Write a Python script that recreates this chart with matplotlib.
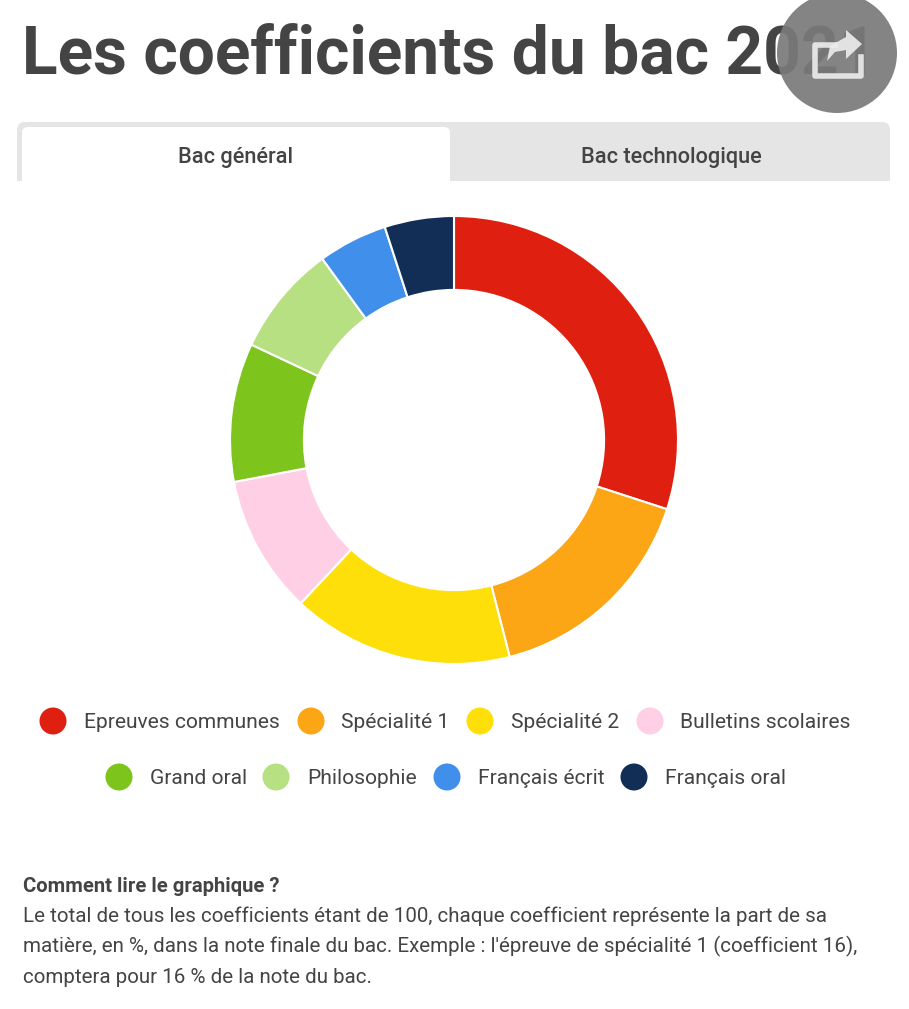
import matplotlib
matplotlib.use("Agg")
import matplotlib.pyplot as plt
from matplotlib.patches import Circle, FancyBboxPatch, Rectangle, Polygon

W, H = 909, 1009

categories = ["Epreuves communes", "Spécialité 1", "Spécialité 2", "Bulletins scolaires",
              "Grand oral", "Philosophie", "Français écrit", "Français oral"]
coefficients = [30, 16, 16, 10, 10, 8, 5, 5]
colors = ["#DF2010", "#FDA615", "#FFDF0A", "#FFCFE6", "#7DC41C", "#B6E081", "#408FEB", "#122E57"]

title = "Les coefficients du bac 2021"
tab_labels = ["Bac général", "Bac technologique"]
note_head = "Comment lire le graphique ?"
note_lines = ["Le total de tous les coefficients étant de 100, chaque coefficient représente la part de sa",
              "matière, en %, dans la note finale du bac. Exemple : l'épreuve de spécialité 1 (coefficient 16),",
              "comptera pour 16 % de la note du bac."]

plt.rcParams['font.family'] = ['Roboto', 'DejaVu Sans']
text_color = "#444444"

fig = plt.figure(figsize=(W / 100, H / 100), dpi=100)

# page layer in pixel coordinates
bg = fig.add_axes([0, 0, 1, 1])
bg.set_xlim(0, W)
bg.set_ylim(H, 0)
bg.axis("off")

bg.text(22, 74, title, fontsize=47.4, fontweight="bold", color=text_color, va="baseline", ha="left")

# tabs
bg.add_patch(FancyBboxPatch((17, 122), 873, 80, boxstyle="round,pad=0,rounding_size=8",
                            fc="#E5E5E5", ec="none"))
bg.add_patch(FancyBboxPatch((22, 127), 428, 80, boxstyle="round,pad=0,rounding_size=6",
                            fc="white", ec="none"))
bg.add_patch(Rectangle((0, 181), W, 30, fc="white", ec="none"))
bg.text(236, 162.5, tab_labels[0], fontsize=15.7, fontweight="medium", color=text_color, ha="center", va="baseline")
bg.text(671, 162.5, tab_labels[1], fontsize=15.7, fontweight="medium", color=text_color, ha="center", va="baseline")

# legend, two centred rows
legend_rows = [(721, [53, 311, 480, 650], [84, 341, 511, 680], categories[:4]),
               (777, [119, 276, 447, 634], [150, 307, 478, 665], categories[4:])]
k = 0
for y, xc, xt, labels in legend_rows:
    for cx, tx, lab in zip(xc, xt, labels):
        bg.add_patch(Circle((cx, y), 13.5, fc=colors[k], ec="none"))
        bg.text(tx, y + 6.5, lab, fontsize=15.1, color=text_color, ha="left", va="baseline")
        k += 1

# reading note
bg.text(23, 891.5, note_head, fontsize=14.55, fontweight="bold", color=text_color, va="baseline")
for i, line in enumerate(note_lines):
    bg.text(23, 922 + i * 30.5, line, fontsize=14.8, color=text_color, va="baseline")

# share button over the title
bg.add_patch(Circle((837, 53), 60, fc="#7A7A7A", ec="none", alpha=0.92, zorder=5))
bg.plot([835, 815, 815, 861, 861], [45, 45, 76, 76, 57], color="#EDEDED", lw=4, alpha=0.9,
        solid_joinstyle="round", zorder=6)
bg.add_patch(Polygon([[846, 30], [862, 44], [846, 59], [846, 50], [835, 52], [827, 61],
                      [830, 46], [846, 37]], fc="#EDEDED", ec="none", alpha=0.9, zorder=7))

# donut
donut = fig.add_axes([(454 - 224) / W, 1 - (440 + 224) / H, 448 / W, 448 / H])
donut.pie(coefficients, colors=colors, startangle=90, counterclock=False, radius=1,
          wedgeprops=dict(width=0.33, edgecolor="white", linewidth=1.5))
donut.set_xlim(-1, 1)
donut.set_ylim(-1, 1)

fig.savefig("out.png", dpi=100)
